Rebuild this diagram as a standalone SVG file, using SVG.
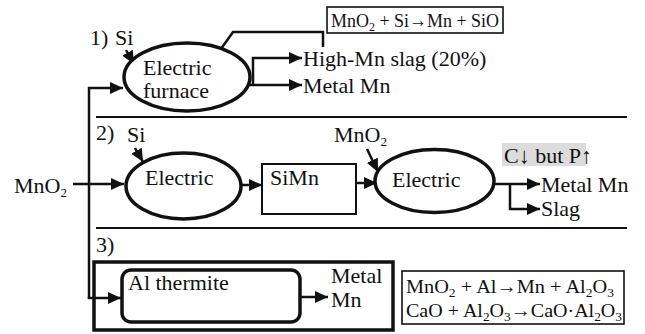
<svg xmlns="http://www.w3.org/2000/svg" width="645" height="334" viewBox="0 0 645 334" font-family="'Liberation Serif', 'DejaVu Serif', serif">
<style>
text{font-family:'Liberation Serif','DejaVu Serif',serif;font-size:22px;fill:#111}
.r{font-size:19.5px}
.sub{font-size:13px}
.ln{stroke:#111;stroke-width:2.5;fill:none}
.thin{stroke:#111;stroke-width:1.6;fill:none}
.node{stroke:#111;stroke-width:3.5;fill:#fff}
.box{stroke:#111;stroke-width:2;fill:#fff}
.div{stroke:#111;stroke-width:2}
</style>
<defs>
<marker id="ah" markerUnits="userSpaceOnUse" markerWidth="14" markerHeight="12" refX="13" refY="6" orient="auto">
<path d="M0,0 L13,6 L0,12 z" fill="#111"/>
</marker>
</defs>
<rect width="645" height="334" fill="#fff"/>

<!-- dividers -->
<line class="div" x1="96" y1="117" x2="627" y2="117"/>
<line class="div" x1="96" y1="228" x2="627" y2="228"/>

<!-- section labels -->
<text x="90" y="45">1)</text>
<text x="96" y="140">2)</text>
<text x="96" y="252">3)</text>

<!-- Section 3 outer box -->
<g id="sec3-box">
<rect x="94" y="262" width="299" height="68" fill="none" stroke="#111" stroke-width="3.5"/>
</g>

<!-- connectors -->
<g id="connectors">
<line class="ln" x1="73" y1="184" x2="124" y2="184" marker-end="url(#ah)"/>
<polyline class="ln" points="89,298 89,88 123,88" marker-end="url(#ah)"/>
<polyline class="ln" points="89,297 89,298 121,298" marker-end="url(#ah)"/>
<line class="ln" x1="126" y1="50" x2="134" y2="64" marker-end="url(#ah)"/>
<polyline class="ln" points="323,47 323,32 233,32 213,60" marker-end="url(#ah)"/>
<line class="ln" x1="249" y1="85" x2="302" y2="85" marker-end="url(#ah)"/>
<polyline class="ln" points="253,85 253,58 302,58" marker-end="url(#ah)"/>
<line class="ln" x1="135" y1="148" x2="143" y2="162" marker-end="url(#ah)"/>
<line class="ln" x1="241" y1="185" x2="262" y2="185" marker-end="url(#ah)"/>
<line class="ln" x1="345" y1="183" x2="377" y2="183" marker-end="url(#ah)"/>
<line class="ln" x1="367" y1="149" x2="378" y2="172" marker-end="url(#ah)"/>
<line class="ln" x1="494" y1="184" x2="540" y2="184" marker-end="url(#ah)"/>
<polyline class="ln" points="510,184 510,209 540,209" marker-end="url(#ah)"/>
<line class="ln" x1="300" y1="297" x2="328" y2="297" marker-end="url(#ah)"/>
</g>

<!-- Section 1 -->
<g id="furnace1">
<ellipse class="node" cx="187" cy="77" rx="63" ry="34"/>
<text x="143" y="75">Electric</text>
<text x="143" y="98">furnace</text>
</g>
<text x="115" y="45">Si</text>
<g id="reaction1">
<rect class="thin" x="327" y="7" width="176" height="26"/>
<text class="r" x="331" y="27" textLength="168" lengthAdjust="spacingAndGlyphs">MnO<tspan class="sub" dy="4">2</tspan><tspan dy="-4"> + Si→Mn + SiO</tspan></text>
</g>
<g id="out1a"><text x="303" y="66">High-Mn slag (20%)</text></g>
<g id="out1b"><text x="303" y="93">Metal Mn</text></g>

<!-- Section 2 -->
<g id="mno2-in"><text x="14" y="193">MnO<tspan class="sub" dy="4">2</tspan></text></g>
<text x="127" y="142">Si</text>
<g id="furnace2">
<ellipse class="node" cx="183.5" cy="186" rx="57.5" ry="33"/>
<text x="145" y="185">Electric</text>
</g>
<g id="simn">
<rect class="box" x="262" y="164" width="94" height="50"/>
<text x="270" y="185">SiMn</text>
</g>
<text x="334" y="142">MnO<tspan class="sub" dy="4">2</tspan></text>
<g id="furnace3">
<ellipse class="node" cx="434.5" cy="181" rx="59.5" ry="31.5"/>
<text x="392" y="187">Electric</text>
</g>
<g id="note2">
<rect x="502" y="143" width="84" height="23" fill="#dcdcdc"/>
<text x="504" y="163">C↓ but P↑</text>
</g>
<g id="out2a"><text x="541" y="192">Metal Mn</text></g>
<g id="out2b"><text x="541" y="216">Slag</text></g>

<!-- Section 3 -->
<g id="thermite">
<rect x="122" y="270" width="178" height="52" rx="9" fill="#fff" stroke="#111" stroke-width="3.5"/>
<text x="128" y="290">Al thermite</text>
</g>
<g id="out3">
<text x="331" y="283">Metal</text>
<text x="331" y="307">Mn</text>
</g>
<g id="reaction3">
<rect class="thin" x="402" y="271" width="222" height="53"/>
<text class="r" x="406" y="293" textLength="208" lengthAdjust="spacingAndGlyphs">MnO<tspan class="sub" dy="4">2</tspan><tspan dy="-4"> + Al→Mn + Al</tspan><tspan class="sub" dy="4">2</tspan><tspan dy="-4">O</tspan><tspan class="sub" dy="4">3</tspan></text>
<text class="r" x="406" y="317" textLength="216" lengthAdjust="spacingAndGlyphs">CaO + Al<tspan class="sub" dy="4">2</tspan><tspan dy="-4">O</tspan><tspan class="sub" dy="4">3</tspan><tspan dy="-4">→CaO·Al</tspan><tspan class="sub" dy="4">2</tspan><tspan dy="-4">O</tspan><tspan class="sub" dy="4">3</tspan></text>
</g>
</svg>
